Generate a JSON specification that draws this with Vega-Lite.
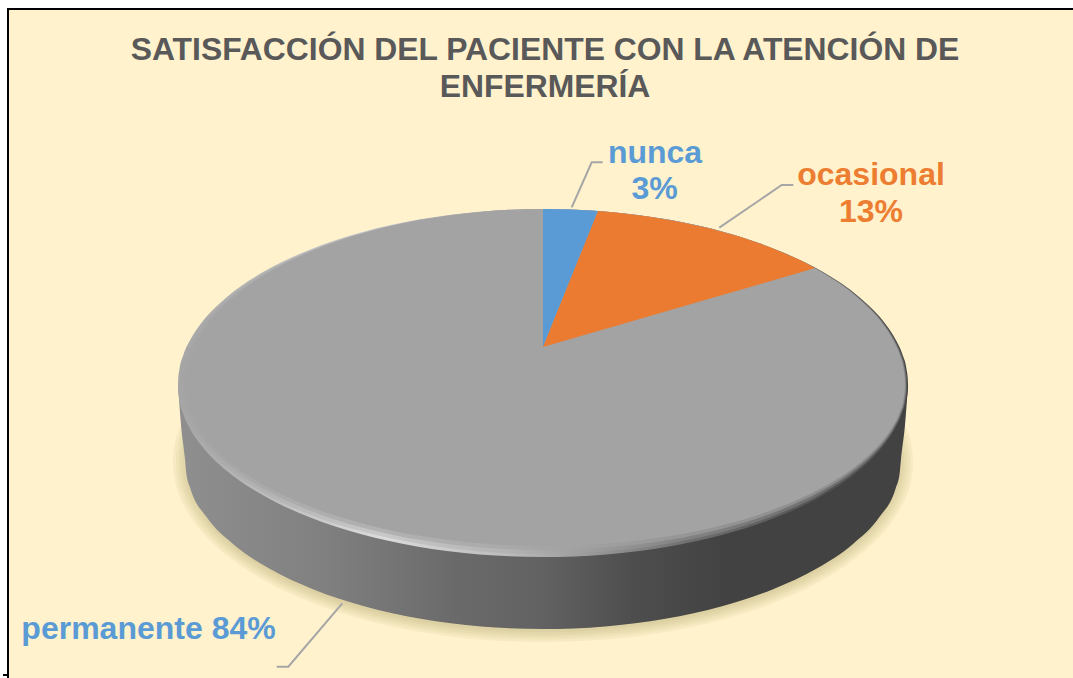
{
"$schema":"https://vega.github.io/schema/vega-lite/v6.json",
"width":1073,"height":678,"padding":0,"autosize":{"type":"none"},"background":"#ffffff",
"title":{"text":["SATISFACCIÓN DEL PACIENTE CON LA ATENCIÓN DE","ENFERMERÍA"],"font":"Liberation Sans","fontSize":31.85,"fontWeight":"bold","color":"#595959","anchor":"middle","frame":"group","orient":"top","offset":0,"baseline":"alphabetic","dx":8.5,"dy":129,"lineHeight":37},
"config":{"view":{"stroke":null}},
"resolve":{"scale":{"x":"independent","y":"independent"}},
"datasets":{
"disc":[
{"x":-1,"y":0,"y2":0},{"x":-0.9994,"y":0.0349,"y2":-0.0349},{"x":-0.9962,"y":0.0872,"y2":-0.0872},{"x":-0.9848,"y":0.1736,"y2":-0.1736},{"x":-0.9659,"y":0.2588,"y2":-0.2588},{"x":-0.9397,"y":0.342,"y2":-0.342},{"x":-0.9063,"y":0.4226,"y2":-0.4226},{"x":-0.866,"y":0.5,"y2":-0.5},{"x":-0.766,"y":0.6428,"y2":-0.6428},{"x":-0.6428,"y":0.766,"y2":-0.766},{"x":-0.5,"y":0.866,"y2":-0.866},{"x":-0.342,"y":0.9397,"y2":-0.9397},{"x":-0.1736,"y":0.9848,"y2":-0.9848},{"x":0,"y":1,"y2":-1},
{"x":0.1736,"y":0.9848,"y2":-0.9848},{"x":0.342,"y":0.9397,"y2":-0.9397},{"x":0.5,"y":0.866,"y2":-0.866},{"x":0.6428,"y":0.766,"y2":-0.766},{"x":0.766,"y":0.6428,"y2":-0.6428},{"x":0.866,"y":0.5,"y2":-0.5},{"x":0.9063,"y":0.4226,"y2":-0.4226},{"x":0.9397,"y":0.342,"y2":-0.342},{"x":0.9659,"y":0.2588,"y2":-0.2588},{"x":0.9848,"y":0.1736,"y2":-0.1736},{"x":0.9962,"y":0.0872,"y2":-0.0872},{"x":0.9994,"y":0.0349,"y2":-0.0349},{"x":1,"y":0,"y2":0}
],
"body":[
{"x":178,"y":385,"y2":385},{"x":181,"y":385,"y2":425},{"x":185,"y":385,"y2":459},{"x":186.4,"y":385,"y2":473.8},{"x":190.4,"y":385,"y2":488.5},{"x":206.6,"y":385,"y2":517.1},{"x":233,"y":385,"y2":544},{"x":268.8,"y":385,"y2":568.3},{"x":312.9,"y":385,"y2":589.2},{"x":364,"y":385,"y2":606.2},{"x":420.6,"y":385,"y2":618.7},{"x":480.9,"y":385,"y2":626.4},{"x":543,"y":385,"y2":629},{"x":605.1,"y":385,"y2":626.4},{"x":665.4,"y":385,"y2":618.7},{"x":722,"y":385,"y2":606.2},{"x":773.1,"y":385,"y2":589.2},{"x":817.2,"y":385,"y2":568.3},{"x":853,"y":385,"y2":544},{"x":879.4,"y":385,"y2":517.1},{"x":895.6,"y":385,"y2":488.5},{"x":899.6,"y":385,"y2":473.8},{"x":901,"y":385,"y2":459},{"x":905,"y":385,"y2":425},{"x":908,"y":385,"y2":385}
],
"wedgeNunca":[
{"slice":"nunca","share":3,"x":543,"y":209,"y2":347},{"slice":"nunca","share":3,"x":550,"y":209,"y2":329.7},{"slice":"nunca","share":3,"x":560,"y":209.2,"y2":305},{"slice":"nunca","share":3,"x":570,"y":209.5,"y2":280.2},{"slice":"nunca","share":3,"x":580,"y":210,"y2":255.5},{"slice":"nunca","share":3,"x":590,"y":210.5,"y2":230.9},{"slice":"nunca","share":3,"x":598,"y":211,"y2":211}
],
"wedgeOcasional":[
{"slice":"ocasional","share":13,"x":543,"y":347,"y2":347},{"slice":"ocasional","share":13,"x":598,"y":211,"y2":331},{"slice":"ocasional","share":13,"x":620,"y":213,"y2":324.7},{"slice":"ocasional","share":13,"x":650,"y":216.7,"y2":316},{"slice":"ocasional","share":13,"x":680,"y":221.9,"y2":307.3},{"slice":"ocasional","share":13,"x":710,"y":228.5,"y2":298.6},{"slice":"ocasional","share":13,"x":740,"y":236.8,"y2":289.9},{"slice":"ocasional","share":13,"x":770,"y":247.2,"y2":281.2},{"slice":"ocasional","share":13,"x":800,"y":260,"y2":272.5},{"slice":"ocasional","share":13,"x":815,"y":268,"y2":268}
],
"leaders":[
{"slice":"nunca","x":571.7,"y":207.3},{"slice":"nunca","x":591.7,"y":162.3},{"slice":"nunca","x":602.7,"y":162.3},
{"slice":"ocasional","x":719.3,"y":227.7},{"slice":"ocasional","x":781.7,"y":185},{"slice":"ocasional","x":793.3,"y":185},
{"slice":"permanente","x":276.7,"y":666.7},{"slice":"permanente","x":288.3,"y":666.7},{"slice":"permanente","x":342.3,"y":603.3}
],
"labels":[
{"text":"nunca","x":655,"y":163,"slice":"nunca"},{"text":"3%","x":654.5,"y":198.5,"slice":"nunca"},
{"text":"ocasional","x":871,"y":185,"slice":"ocasional"},{"text":"13%","x":871,"y":222,"slice":"ocasional"},
{"text":"permanente 84%","x":148.5,"y":639,"slice":"permanente"}
],
"frame":[
{"x":8,"x2":8,"y":8,"y2":678},{"x":7,"x2":1073,"y":9,"y2":9},{"x":3,"x2":7,"y":675,"y2":675}
]
},
"layer":[
{"data":{"values":[{"x":9,"x2":1073,"y":10,"y2":678}]},"mark":{"type":"rect","color":"#fff2cc"},
"encoding":{"x":{"field":"x","type":"quantitative","axis":null,"scale":{"domain":[0,1073],"range":[0,1073]}},"x2":{"field":"x2"},"y":{"field":"y","type":"quantitative","axis":null,"scale":{"domain":[0,678],"range":[0,678]}},"y2":{"field":"y2"}}},
{"data":{"name":"frame"},"mark":{"type":"rule","color":"#000000","strokeWidth":2},
"encoding":{"x":{"field":"x","type":"quantitative","axis":null,"scale":{"domain":[0,1073],"range":[0,1073]}},"x2":{"field":"x2"},"y":{"field":"y","type":"quantitative","axis":null,"scale":{"domain":[0,678],"range":[0,678]}},"y2":{"field":"y2"}}},
{"data":{"name":"disc"},"mark":{"type":"area","interpolate":"monotone","color":"#b5a56f","opacity":0.1},
"encoding":{"x":{"field":"x","type":"quantitative","axis":null,"scale":{"domain":[-1,1],"range":[173,913]}},"y":{"field":"y","type":"quantitative","axis":null,"scale":{"domain":[-1,1],"range":[642,282]}},"y2":{"field":"y2"}}},
{"data":{"name":"disc"},"mark":{"type":"area","interpolate":"monotone","color":"#b5a56f","opacity":0.1},
"encoding":{"x":{"field":"x","type":"quantitative","axis":null,"scale":{"domain":[-1,1],"range":[176,910]}},"y":{"field":"y","type":"quantitative","axis":null,"scale":{"domain":[-1,1],"range":[639.5,284.5]}},"y2":{"field":"y2"}}},
{"data":{"name":"disc"},"mark":{"type":"area","interpolate":"monotone","color":"#b5a56f","opacity":0.1},
"encoding":{"x":{"field":"x","type":"quantitative","axis":null,"scale":{"domain":[-1,1],"range":[179,907]}},"y":{"field":"y","type":"quantitative","axis":null,"scale":{"domain":[-1,1],"range":[637,287]}},"y2":{"field":"y2"}}},
{"data":{"name":"disc"},"mark":{"type":"area","interpolate":"monotone","color":"#b5a56f","opacity":0.1},
"encoding":{"x":{"field":"x","type":"quantitative","axis":null,"scale":{"domain":[-1,1],"range":[182,904]}},"y":{"field":"y","type":"quantitative","axis":null,"scale":{"domain":[-1,1],"range":[634.5,289.5]}},"y2":{"field":"y2"}}},
{"data":{"name":"disc"},"mark":{"type":"area","interpolate":"monotone","color":"#b5a56f","opacity":0.1},
"encoding":{"x":{"field":"x","type":"quantitative","axis":null,"scale":{"domain":[-1,1],"range":[185,901]}},"y":{"field":"y","type":"quantitative","axis":null,"scale":{"domain":[-1,1],"range":[632,292]}},"y2":{"field":"y2"}}},
{"data":{"name":"body"},"mark":{"type":"area","interpolate":"monotone","color":{"gradient":"linear","x1":0,"x2":1,"y1":0,"y2":0,"stops":[{"offset":0,"color":"#8f8f8f"},{"offset":0.2,"color":"#808080"},{"offset":0.38,"color":"#6a6a6a"},{"offset":0.5,"color":"#626262"},{"offset":0.62,"color":"#4e4e4e"},{"offset":0.75,"color":"#424242"},{"offset":1,"color":"#424242"}]}},
"encoding":{"x":{"field":"x","type":"quantitative","axis":null,"scale":{"domain":[0,1073],"range":[0,1073]}},"y":{"field":"y","type":"quantitative","axis":null,"scale":{"domain":[0,678],"range":[0,678]}},"y2":{"field":"y2"}}},
{"data":{"name":"disc"},"mark":{"type":"area","interpolate":"monotone","color":{"gradient":"linear","x1":0,"x2":1,"y1":0,"y2":0,"stops":[{"offset":0,"color":"#a6a6a6"},{"offset":0.12,"color":"#bcbcbc"},{"offset":0.28,"color":"#dcdcdc"},{"offset":0.45,"color":"#bcbcbc"},{"offset":0.7,"color":"#707070"},{"offset":1,"color":"#404040"}]}},
"encoding":{"x":{"field":"x","type":"quantitative","axis":null,"scale":{"domain":[-1,1],"range":[178,908]}},"y":{"field":"y","type":"quantitative","axis":null,"scale":{"domain":[-1,0,1],"range":[557,385,209]}},"y2":{"field":"y2"}}},
{"data":{"name":"disc"},"mark":{"type":"area","interpolate":"monotone","color":"#a3a3a3","opacity":0.35},
"encoding":{"x":{"field":"x","type":"quantitative","axis":null,"scale":{"domain":[-1,1],"range":[180,907]}},"y":{"field":"y","type":"quantitative","axis":null,"scale":{"domain":[-1,0,1],"range":[554,385,209]}},"y2":{"field":"y2"}}},
{"data":{"name":"disc"},"mark":{"type":"area","interpolate":"monotone","color":"#a3a3a3","opacity":0.6},
"encoding":{"x":{"field":"x","type":"quantitative","axis":null,"scale":{"domain":[-1,1],"range":[183,906]}},"y":{"field":"y","type":"quantitative","axis":null,"scale":{"domain":[-1,0,1],"range":[550,385,209]}},"y2":{"field":"y2"}}},
{"data":{"name":"disc"},"mark":{"type":"area","interpolate":"monotone","color":"#a3a3a3"},
"encoding":{"x":{"field":"x","type":"quantitative","axis":null,"scale":{"domain":[-1,1],"range":[186,905]}},"y":{"field":"y","type":"quantitative","axis":null,"scale":{"domain":[-1,0,1],"range":[546,385,209]}},"y2":{"field":"y2"}}},
{"data":{"name":"wedgeNunca"},"mark":{"type":"area","color":"#5b9bd5"},
"encoding":{"x":{"field":"x","type":"quantitative","axis":null,"scale":{"domain":[0,1073],"range":[0,1073]}},"y":{"field":"y","type":"quantitative","axis":null,"scale":{"domain":[0,678],"range":[0,678]}},"y2":{"field":"y2"}}},
{"data":{"name":"wedgeOcasional"},"mark":{"type":"area","color":"#ea7b30"},
"encoding":{"x":{"field":"x","type":"quantitative","axis":null,"scale":{"domain":[0,1073],"range":[0,1073]}},"y":{"field":"y","type":"quantitative","axis":null,"scale":{"domain":[0,678],"range":[0,678]}},"y2":{"field":"y2"}}},
{"data":{"name":"leaders"},"mark":{"type":"line","color":"#a6a6a6","strokeWidth":2},
"encoding":{"detail":{"field":"slice"},"x":{"field":"x","type":"quantitative","axis":null,"scale":{"domain":[0,1073],"range":[0,1073]}},"y":{"field":"y","type":"quantitative","axis":null,"scale":{"domain":[0,678],"range":[0,678]}}}},
{"data":{"name":"labels"},"mark":{"type":"text","font":"Liberation Sans","fontWeight":"bold","fontSize":32,"align":"center","baseline":"alphabetic"},
"encoding":{"text":{"field":"text"},"color":{"field":"slice","type":"nominal","legend":null,"scale":{"domain":["nunca","ocasional","permanente"],"range":["#5b9bd5","#ed7d31","#5b9bd5"]}},"x":{"field":"x","type":"quantitative","axis":null,"scale":{"domain":[0,1073],"range":[0,1073]}},"y":{"field":"y","type":"quantitative","axis":null,"scale":{"domain":[0,678],"range":[0,678]}}}}
]
}
